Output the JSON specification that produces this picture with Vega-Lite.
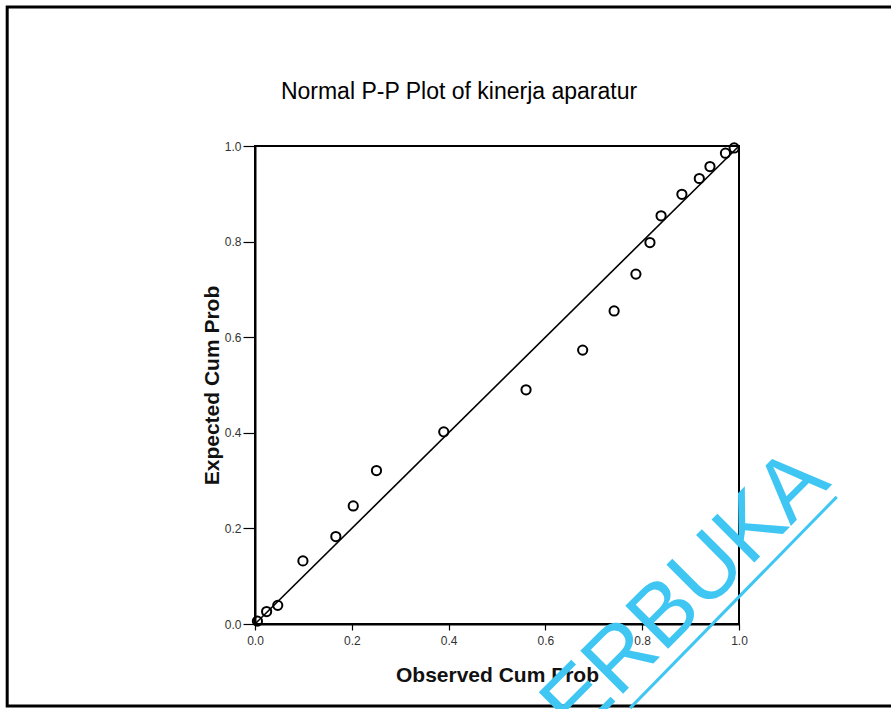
{
  "$schema": "https://vega.github.io/schema/vega-lite/v6.json",
  "autosize": {"type": "none"},
  "padding": {"left": 255, "top": 146, "right": 152, "bottom": 85},
  "width": 484,
  "height": 478,
  "background": "white",
  "data": {
    "values": [
      {"observed": 0.005, "expected": 0.006},
      {"observed": 0.024, "expected": 0.026},
      {"observed": 0.047, "expected": 0.039},
      {"observed": 0.099, "expected": 0.132},
      {"observed": 0.167, "expected": 0.183},
      {"observed": 0.203, "expected": 0.247},
      {"observed": 0.251, "expected": 0.321},
      {"observed": 0.390, "expected": 0.402},
      {"observed": 0.560, "expected": 0.490},
      {"observed": 0.677, "expected": 0.573},
      {"observed": 0.742, "expected": 0.655},
      {"observed": 0.787, "expected": 0.732},
      {"observed": 0.816, "expected": 0.798},
      {"observed": 0.839, "expected": 0.854},
      {"observed": 0.882, "expected": 0.899},
      {"observed": 0.918, "expected": 0.932},
      {"observed": 0.940, "expected": 0.957},
      {"observed": 0.972, "expected": 0.985},
      {"observed": 0.990, "expected": 0.996}
    ]
  },
  "layer": [
    {
      "data": {"values": [{}]},
      "mark": {"type": "rect", "filled": false, "stroke": "black", "strokeWidth": 3},
      "encoding": {
        "x": {"datum": -0.512, "type": "quantitative"},
        "x2": {"datum": 1.34},
        "y": {"datum": 1.291, "type": "quantitative"},
        "y2": {"datum": -0.1715}
      }
    },
    {
      "data": {"values": [{"title": "Normal P-P Plot of kinerja aparatur"}]},
      "mark": {"type": "text", "font": "Liberation Sans", "fontSize": 23, "fontWeight": "normal", "color": "#000000", "align": "center", "baseline": "alphabetic"},
      "encoding": {
        "text": {"field": "title"},
        "x": {"datum": 0.4215, "type": "quantitative"},
        "y": {"datum": 1.0983, "type": "quantitative"}
      }
    },
    {
      "data": {"values": [{}]},
      "mark": {"type": "rule", "color": "black", "strokeWidth": 1.6},
      "encoding": {
        "x": {"datum": 0, "type": "quantitative"},
        "x2": {"datum": 1},
        "y": {"datum": 0, "type": "quantitative"},
        "y2": {"datum": 1}
      }
    },
    {
      "mark": {"type": "point", "filled": false, "stroke": "black", "strokeWidth": 2, "size": 85, "opacity": 1},
      "encoding": {
        "x": {
          "field": "observed",
          "type": "quantitative",
          "scale": {"domain": [0, 1], "nice": false},
          "axis": {
            "title": "Observed Cum Prob",
            "values": [0, 0.2, 0.4, 0.6, 0.8, 1.0],
            "format": ".1f",
            "grid": false,
            "tickSize": 6,
            "labelPadding": 5,
            "titlePadding": 18
          }
        },
        "y": {
          "field": "expected",
          "type": "quantitative",
          "scale": {"domain": [0, 1], "nice": false},
          "axis": {
            "title": "Expected Cum Prob",
            "values": [0, 0.2, 0.4, 0.6, 0.8, 1.0],
            "format": ".1f",
            "grid": false,
            "tickSize": 12,
            "labelPadding": 2,
            "titlePadding": 2
          }
        }
      }
    },
    {
      "data": {"values": [{"mark": "ERBUKA"}]},
      "mark": {"type": "text", "font": "Liberation Sans", "fontSize": 88, "color": "#3fc6f3", "angle": -45, "align": "center", "baseline": "middle"},
      "encoding": {
        "text": {"field": "mark"},
        "x": {"datum": 0.8905, "type": "quantitative"},
        "y": {"datum": 0.0628, "type": "quantitative"}
      }
    },
    {
      "data": {"values": [{}]},
      "mark": {"type": "rule", "color": "#3fc6f3", "strokeWidth": 3},
      "encoding": {
        "x": {"datum": 0.775, "type": "quantitative"},
        "x2": {"datum": 1.202},
        "y": {"datum": -0.176, "type": "quantitative"},
        "y2": {"datum": 0.266}
      }
    }
  ],
  "config": {
    "font": "Liberation Sans",
    "view": {"stroke": "black", "strokeWidth": 2},
    "axis": {
      "domainColor": "black",
      "domainWidth": 2,
      "tickColor": "black",
      "tickWidth": 1.2,
      "labelFont": "Liberation Sans",
      "labelFontSize": 12,
      "labelColor": "#333333",
      "labelFlush": false,
      "labelOverlap": false,
      "titleFont": "Liberation Sans",
      "titleFontSize": 21,
      "titleFontWeight": "bold",
      "titleColor": "#111111"
    }
  }
}
